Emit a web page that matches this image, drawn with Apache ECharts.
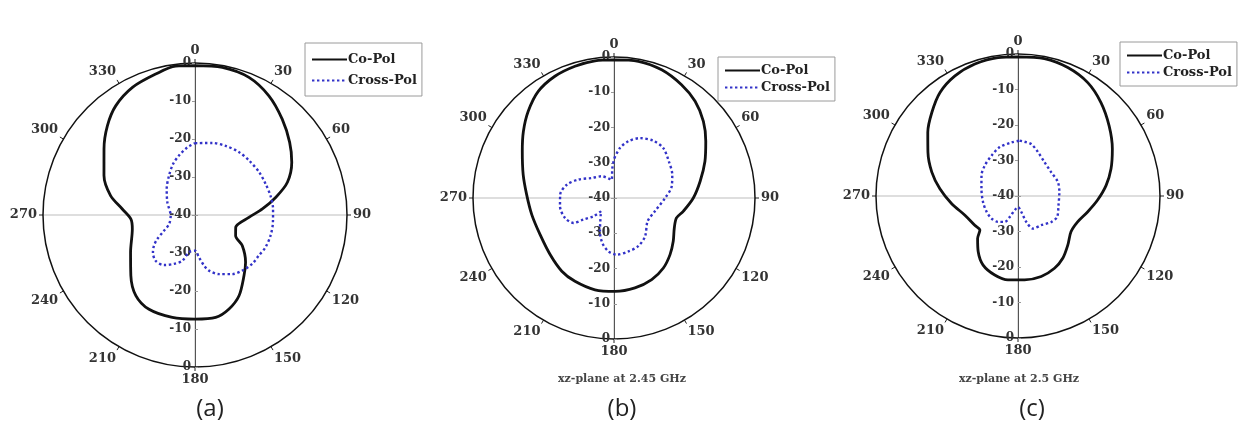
<!DOCTYPE html>
<html><head><meta charset="utf-8">
<script src="https://cdn.jsdelivr.net/npm/echarts@6/dist/echarts.min.js"></script>
<style>html,body{margin:0;padding:0;background:#fff}#c{width:1241px;height:430px}</style>
</head><body><div id="c"></div>
<script>
// ---- tick labels ----
const angleTickStep = 30;          // 0,30,...,330
const radiusTicks = [-40, -30, -20, -10, 0];
const seriesNames = ['Co-Pol', 'Cross-Pol'];
const panelLetters = ['(a)', '(b)', '(c)'];
const panelCaptions = ['', 'xz-plane at 2.45 GHz', 'xz-plane at 2.5 GHz'];

// ---- (a) ----
const aCoAng = [0,10.5,21.4,31.8,42.3,52.5,61.4,70.5,77.6,84.9,92.5,106.9,117,122.9,133,141,151.4,160.1,168.6,180,192.5,206,216.3,226.7,239.9,257.4,266.4,274.7,282.9,293.4,306,315.5,324,333.9,344.4,352.6];
const aCoDb  = [-0.7,-0.5,-1.1,-3.1,-5.9,-8.6,-11.0,-14.2,-18.2,-22.2,-25.8,-28.8,-28.0,-25.2,-21.8,-19.5,-15.8,-13.7,-12.5,-12.6,-12.4,-12.4,-13.7,-16.8,-20.4,-23.1,-23.1,-20.8,-17.2,-13.9,-10.4,-7.1,-4.5,-2.6,-1.5,-0.5];
const aXpAng = [0,13.5,23.9,35.1,44.8,56.3,66.3,75.7,85.6,95.4,105.3,114.6,122.4,130.5,139.6,147.7,157.9,165.9,169.9,174.6,180,189,195.5,203.2,211.8,220.7,228.4,233.2,237.5,243.2,250.9,268.4,294.6,312.5,326.5,336.7,344.9,353.5];
const aXpDb  = [-21.1,-20.5,-20.1,-19.8,-19.8,-19.7,-19.7,-19.5,-19.4,-19.4,-19.4,-19.6,-20.1,-20.2,-20.8,-21.6,-23.2,-24.9,-26.5,-28.8,-30.6,-30.1,-27.5,-26.0,-24.5,-24.1,-25.2,-26.5,-28.2,-30.9,-32.8,-33.6,-32.0,-29.9,-27.6,-25.4,-23.8,-22.1];

// ---- (b) ----
const bCoAng = [0,10.1,20.4,30.8,40,49.4,58.3,68.1,79,90,100.9,107.7,116.4,126.1,135.3,144.8,155.2,166.9,179.4,191.7,205.1,215.5,228.5,243.6,258.6,272.2,284.4,297,306.3,315.3,324.6,334.1,343.5,352.1];
const bCoDb  = [-0.8,-0.6,-1.2,-2.6,-4.2,-6.6,-9.4,-12.2,-15.1,-17.5,-20.0,-21.4,-20.9,-19.2,-17.4,-15.7,-14.5,-13.8,-13.5,-13.4,-13.9,-14.5,-15.8,-16.6,-16.2,-15.2,-13.4,-10.8,-8.1,-5.4,-2.9,-1.6,-1.0,-0.7];
const bXpAng = [0.5,6.8,14.2,23.4,34.5,44.6,56.3,68.2,78.6,90,108,124.7,141,153.3,165,177.3,186.1,194.5,202.8,224.3,228.4,234.8,238.4,247.8,261.2,273.5,285.7,297.2,311.8,330.3,352.7,356.8];
const bXpDb  = [-28.7,-25.7,-23.4,-21.5,-20.3,-20.1,-21.3,-22.2,-23.3,-25.5,-27.8,-28.4,-26.0,-24.7,-24.3,-23.9,-24.8,-26.8,-29.7,-34.7,-32.2,-29.4,-26.5,-25.0,-24.5,-24.7,-26.1,-28.6,-31.5,-32.9,-34.8,-31.5];

// ---- (c) ----
const cCoAng = [0,10.9,21.2,31.6,41.6,52.4,63.5,73.7,83.1,93.1,102.9,113.4,124,134.6,144.3,153.2,163.9,175.5,186.8,196.4,206.8,215.5,223.6,228.2,235.9,250.1,263.4,275.3,285.5,295.9,305.2,314.1,323,332.3,341.9,351.8];
const cCoDb  = [-0.8,-0.6,-1.2,-2.5,-4.8,-7.6,-10.3,-12.7,-15.0,-17.6,-19.9,-21.7,-22.0,-20.3,-18.4,-17.2,-16.4,-16.3,-16.2,-16.8,-18.2,-20.7,-23.5,-25.6,-25.3,-24.1,-21.2,-17.9,-14.8,-11.8,-8.9,-6.2,-3.5,-1.8,-0.9,-0.6];
const cXpAng = [1.7,7,14.3,24.4,38.1,54.2,70.7,84.5,102.9,118.1,127.9,141.5,155.3,162.2,168.2,180,193.1,201.6,207.1,217.6,229.6,243.2,260.3,281.3,299.4,312.6,326.7,339.5,353];
const cXpDb  = [-24.4,-24.6,-24.9,-26.4,-27.9,-28.5,-28.1,-28.3,-28.3,-27.5,-28.1,-29.5,-29.9,-32.3,-35.4,-36.9,-35.9,-33.6,-31.8,-30.8,-30.2,-30.1,-30.0,-29.5,-28.2,-27.3,-26.4,-25.3,-24.8];

// ---- layout / style (not data) ----
const centers = [[195, 215], [614, 198], [1018, 196]];
const radii = [152, 141, 142];
const legendBoxes = [
  {left: 305, top: 43, gap: 8, pad: [10, 5, 9, 6]},
  {left: 718, top: 57, gap: 4, pad: [7, 5, 7, 6]},
  {left: 1120, top: 42, gap: 4, pad: [7, 5, 7, 6]}
];
const serifFont = 'DejaVu Serif';
const coColor = '#111';
const xpColor = '#3232c8';

const panels = [
  [[aCoAng, aCoDb], [aXpAng, aXpDb]],
  [[bCoAng, bCoDb], [bXpAng, bXpDb]],
  [[cCoAng, cCoDb], [cXpAng, cXpDb]]
];

function toData(ang, db) {
  const d = ang.map((a, i) => [db[i], a]);
  d.push(d[0].slice());
  return d;
}

const polar = [], angleAxis = [], radiusAxis = [], series = [], legend = [], title = [];
const rMin = radiusTicks[0], rMax = radiusTicks[radiusTicks.length - 1];
const rStep = radiusTicks[1] - radiusTicks[0];

panels.forEach((p, i) => {
  polar.push({center: centers[i], radius: radii[i]});
  angleAxis.push({
    polarIndex: i, type: 'value', min: 0, max: 360, interval: angleTickStep,
    startAngle: 90, clockwise: true,
    axisLine: {show: true, lineStyle: {color: '#111', width: 1.5}},
    axisTick: {show: true, length: 4, lineStyle: {color: '#222', width: 1}},
    axisLabel: {show: true, margin: 6, fontFamily: serifFont, fontWeight: 'bold', fontSize: 13, color: '#333',
      formatter: v => (v >= 360 ? '' : String(v))},
    splitLine: {show: true, lineStyle: {color: ['#bdbdbd', 'rgba(0,0,0,0)', 'rgba(0,0,0,0)'], width: 1}}
  });
  radiusAxis.push({
    polarIndex: i, type: 'value', min: rMin, max: rMax, interval: rStep,
    axisLine: {show: true, lineStyle: {color: '#555', width: 1}},
    axisTick: {show: true, length: 3, lineStyle: {color: '#999'}},
    axisLabel: {show: true, margin: 4, fontFamily: serifFont, fontWeight: 'bold', fontSize: 12, color: '#333'},
    splitLine: {show: false}
  });
});
// lower halves of the radial scale (labels drawn downward, kept left of the axis)
panels.forEach((p, i) => {
  const k = panels.length + i;
  polar.push({center: centers[i], radius: radii[i]});
  angleAxis.push({polarIndex: k, type: 'value', min: 0, max: 360, startAngle: 270, show: false});
  radiusAxis.push({
    polarIndex: k, type: 'value', min: rMin, max: rMax, interval: rStep,
    axisLine: {show: true, lineStyle: {color: '#555', width: 1}},
    axisTick: {show: true, length: 3, lineStyle: {color: '#999'}},
    axisLabel: {show: true, margin: -4, align: 'right', fontFamily: serifFont, fontWeight: 'bold', fontSize: 12, color: '#333',
      formatter: v => (v === rMin ? '' : String(v))},
    splitLine: {show: false}
  });
});

panels.forEach((p, i) => {
  series.push({
    type: 'line', name: seriesNames[0], coordinateSystem: 'polar', polarIndex: i,
    data: toData(p[0][0], p[0][1]), symbol: 'none', smooth: 0.3, z: 4,
    lineStyle: {color: coColor, width: 2.8}, itemStyle: {color: coColor}
  });
  series.push({
    type: 'line', name: seriesNames[1], coordinateSystem: 'polar', polarIndex: i,
    data: toData(p[1][0], p[1][1]), symbol: 'none', smooth: 0.3, z: 5,
    lineStyle: {color: xpColor, width: 2.4, type: [2.4, 2.6]}, itemStyle: {color: xpColor}
  });
  const lb = legendBoxes[i];
  legend.push({
    left: lb.left, top: lb.top, orient: 'vertical', data: seriesNames, selectedMode: false,
    itemWidth: 35, itemHeight: 12, itemGap: lb.gap, padding: lb.pad,
    borderColor: '#9a9a9a', borderWidth: 1, backgroundColor: '#fff',
    itemStyle: {opacity: 0},
    textStyle: {fontFamily: serifFont, fontWeight: 'bold', fontSize: 13, color: '#222', padding: [0, 0, 0, -4]}
  });
  title.push({
    text: panelLetters[i], left: [205, 617, 1027][i], top: 392, textAlign: 'center',
    textStyle: {fontFamily: 'Open Sans', fontWeight: 'normal', fontSize: 24, color: '#222'}
  });
  if (panelCaptions[i]) {
    title.push({
      text: panelCaptions[i], left: [205, 617, 1014][i], top: 369, textAlign: 'center',
      textStyle: {fontFamily: serifFont, fontWeight: 'bold', fontSize: 11, color: '#444'}
    });
  }
});

const chart = echarts.init(document.getElementById('c'), null, {renderer: 'canvas'});
chart.setOption({
  animation: false, backgroundColor: '#fff',
  title, legend, polar, angleAxis, radiusAxis, series
});
</script></body></html>
